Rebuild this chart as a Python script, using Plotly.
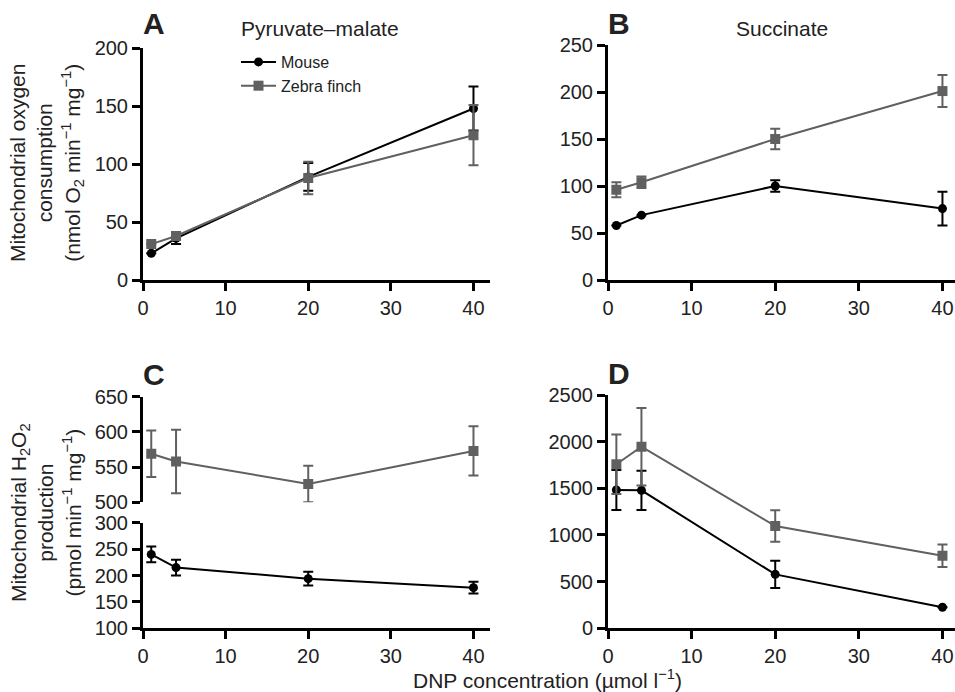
import plotly.graph_objects as go

# ---------------- data ----------------
dnp = [1, 4, 20, 40]

# A: oxygen consumption, pyruvate-malate
a_mouse = [23, 36, 89, 148]
a_mouse_err = [0, 5, 12, 19]
a_finch = [31, 38, 88, 125]
a_finch_err = [0, 3, 14, 26]

# B: oxygen consumption, succinate
b_mouse = [58, 69, 100, 76]
b_mouse_err = [0, 0, 6, 18]
b_finch = [96, 104, 150, 201]
b_finch_err = [8, 6, 11, 17]

# C: H2O2 production, pyruvate-malate
c_mouse = [240, 215, 194, 177]
c_mouse_err = [15, 15, 13, 11]
c_finch = [569, 558, 526, 573]
c_finch_err = [33, 45, 26, 35]

# D: H2O2 production, succinate
d_mouse = [1482, 1478, 578, 225]
d_mouse_err = [215, 210, 145, 0]
d_finch = [1758, 1946, 1096, 778]
d_finch_err = [320, 415, 168, 120]

x_ticks = [0, 10, 20, 30, 40]
a_yticks = [0, 50, 100, 150, 200]
b_yticks = [0, 50, 100, 150, 200, 250]
c_top_yticks = [500, 550, 600, 650]
c_bot_yticks = [100, 150, 200, 250, 300]
d_yticks = [0, 500, 1000, 1500, 2000, 2500]

series_names = ["Mouse", "Zebra finch"]
panel_titles = ["Pyruvate\u2013malate", "Succinate"]
panel_letters = ["A", "B", "C", "D"]

# ---------------- style ----------------
W, H = 955, 692
BLACK = "#000000"
GRAY = "#606060"
FONT = "Liberation Sans, Arial, Helvetica, sans-serif"
TXT = "#222222"


def px_x(p):
    return p / W


def px_y(p):
    return 1 - p / H


fig = go.Figure()


def add_series(xa, ya, y, err, name, color, symbol, size, show):
    fig.add_trace(go.Scatter(
        x=dnp, y=y, mode="lines+markers", name=name,
        xaxis=xa, yaxis=ya, showlegend=show, legendgroup=name,
        line=dict(color=color, width=2),
        marker=dict(color=color, symbol=symbol, size=size, line=dict(width=0)),
        error_y=dict(type="data", array=err, visible=True, color=color,
                     thickness=2, width=5),
    ))


# A
add_series("x", "y", a_mouse, a_mouse_err, series_names[0], BLACK, "circle", 9, True)
add_series("x", "y", a_finch, a_finch_err, series_names[1], GRAY, "square", 10, True)
# B
add_series("x2", "y2", b_mouse, b_mouse_err, series_names[0], BLACK, "circle", 9, False)
add_series("x2", "y2", b_finch, b_finch_err, series_names[1], GRAY, "square", 10, False)
# C (broken axis): mouse on lower segment, finch on upper segment
add_series("x3", "y3", c_mouse, c_mouse_err, series_names[0], BLACK, "circle", 9, False)
add_series("x4", "y4", c_finch, c_finch_err, series_names[1], GRAY, "square", 10, False)
# D
add_series("x5", "y5", d_mouse, d_mouse_err, series_names[0], BLACK, "circle", 9, False)
add_series("x5", "y5", d_finch, d_finch_err, series_names[1], GRAY, "square", 10, False)

axis_common = dict(
    showline=True, linecolor=BLACK, linewidth=3, ticks="outside",
    ticklen=8, tickwidth=3, tickcolor=BLACK, showgrid=False, zeroline=False,
    tickfont=dict(family=FONT, size=20, color=TXT), fixedrange=True,
    automargin=False,
)

left_x = [px_x(143), px_x(490)]
right_x = [px_x(608), px_x(955)]


def xax(domain, anchor, rng, show=True):
    d = dict(axis_common, domain=domain, anchor=anchor, range=rng,
             tickmode="array", tickvals=x_ticks)
    if not show:
        d.update(showline=False, ticks="", showticklabels=False)
    return d


def yax(domain, anchor, rng, tickvals):
    return dict(axis_common, domain=domain, anchor=anchor, range=rng,
                tickmode="array", tickvals=tickvals)


fig.update_layout(
    xaxis=xax(left_x, "y", [0, 42]),
    yaxis=yax([px_y(280), px_y(48.3)], "x", [0, 200], a_yticks),
    xaxis2=xax(right_x, "y2", [0, 41.5]),
    yaxis2=yax([px_y(280), px_y(45)], "x2", [0, 250], b_yticks),
    xaxis3=xax(left_x, "y3", [0, 42]),
    yaxis3=yax([px_y(628.3), px_y(522.7)], "x3", [100, 300], c_bot_yticks),
    xaxis4=xax(left_x, "y4", [0, 42], show=False),
    yaxis4=yax([px_y(502.3), px_y(396.7)], "x4", [500, 650], c_top_yticks),
    xaxis5=xax(right_x, "y5", [0, 41.5]),
    yaxis5=yax([px_y(628.3), px_y(395)], "x5", [0, 2500], d_yticks),
)

annotations = []


def ann(text, x, y, size, bold=False, angle=0):
    annotations.append(dict(
        text=f"<b>{text}</b>" if bold else text,
        x=px_x(x), y=px_y(y), xref="paper", yref="paper",
        xanchor="center", yanchor="middle", showarrow=False,
        textangle=angle, font=dict(family=FONT, size=size, color=TXT),
    ))


ann(panel_letters[0], 154, 24, 30, bold=True)
ann(panel_letters[1], 619, 24, 30, bold=True)
ann(panel_letters[2], 154, 374, 30, bold=True)
ann(panel_letters[3], 619, 373, 30, bold=True)
ann(panel_titles[0], 320, 28, 21)
ann(panel_titles[1], 782, 28, 21)
ann("Mitochondrial oxygen<br>consumption<br>(nmol O<sub>2</sub> min<sup>\u22121</sup> mg<sup>\u22121</sup>)",
    46, 163, 21, angle=-90)
ann("Mitochondrial H<sub>2</sub>O<sub>2</sub><br>production<br>(pmol min<sup>\u22121</sup> mg<sup>\u22121</sup>)",
    46, 513, 21, angle=-90)
ann("DNP concentration (\u00b5mol l<sup>\u22121</sup>)", 547, 679, 21)

fig.update_layout(
    width=W, height=H,
    margin=dict(l=0, r=0, t=0, b=0, autoexpand=False),
    paper_bgcolor="white", plot_bgcolor="white",
    annotations=annotations,
    showlegend=True,
    legend=dict(
        x=px_x(236), y=px_y(45), xanchor="left", yanchor="top",
        bgcolor="rgba(0,0,0,0)", borderwidth=0,
        font=dict(family=FONT, size=16, color=TXT),
        itemwidth=35, tracegroupgap=0,
    ),
)

fig.write_html(
    "out.html",
    config={"displayModeBar": False},
    post_script="document.body.style.margin='0';document.body.style.overflow='hidden';",
)
